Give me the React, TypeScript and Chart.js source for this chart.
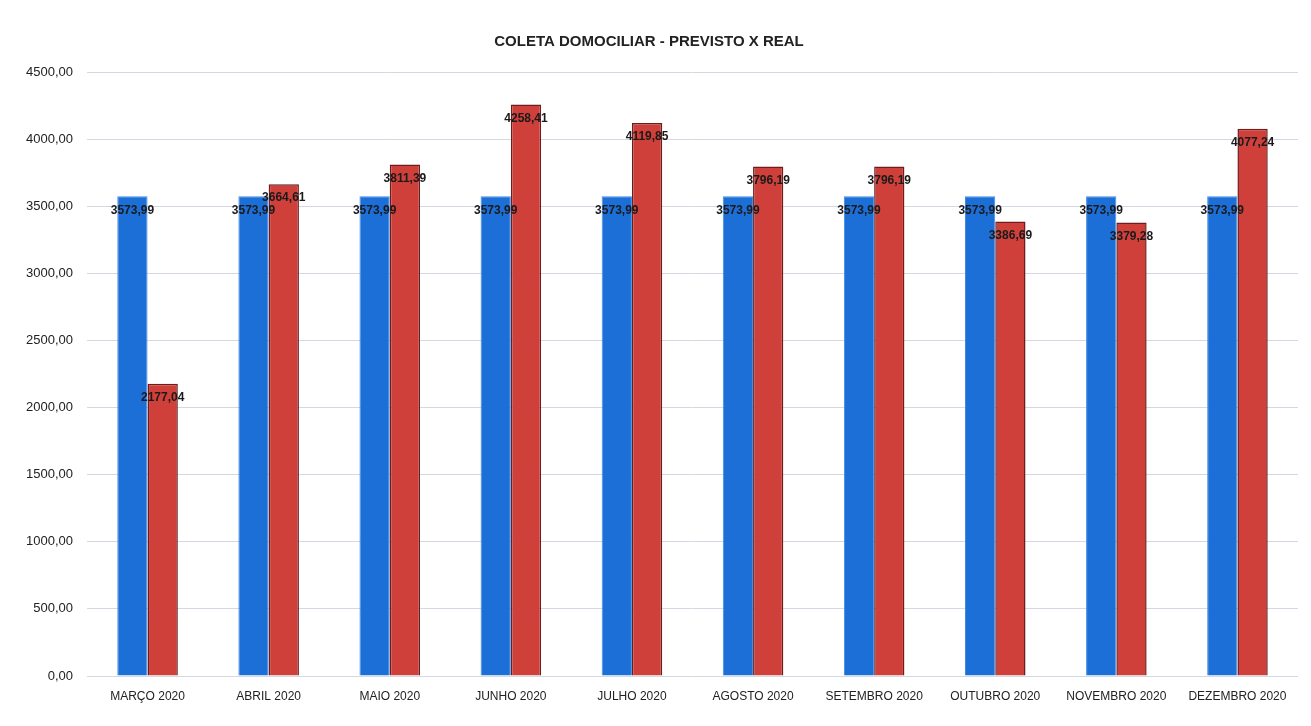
import React, { useEffect, useRef } from "react";
import { Chart, registerables } from "chart.js";

Chart.register(...registerables);

const categories = [
  "MARÇO 2020",
  "ABRIL 2020",
  "MAIO 2020",
  "JUNHO 2020",
  "JULHO 2020",
  "AGOSTO 2020",
  "SETEMBRO 2020",
  "OUTUBRO 2020",
  "NOVEMBRO 2020",
  "DEZEMBRO 2020",
];
const previsto = [3573.99, 3573.99, 3573.99, 3573.99, 3573.99, 3573.99, 3573.99, 3573.99, 3573.99, 3573.99];
const real = [2177.04, 3664.61, 3811.39, 4258.41, 4119.85, 3796.19, 3796.19, 3386.69, 3379.28, 4077.24];
const titleText = "COLETA DOMOCILIAR - PREVISTO X REAL";

const FONT = "'Liberation Sans', Arial, sans-serif";

const fmt = (v: number) => v.toFixed(2).replace(".", ",");

const labelPlugin = {
  id: "valueLabels",
  afterDatasetsDraw(chart: any) {
    const ctx = chart.ctx;
    ctx.save();
    ctx.font = `bold 12px ${FONT}`;
    ctx.fillStyle = "#1a1a1a";
    ctx.textAlign = "center";
    ctx.textBaseline = "middle";
    chart.data.datasets.forEach((ds: any, di: number) => {
      const meta = chart.getDatasetMeta(di);
      meta.data.forEach((bar: any, i: number) => {
        const v = ds.data[i];
        ctx.fillText(fmt(v), bar.x, bar.y + 14);
      });
    });
    ctx.restore();
  },
};

export default function App() {
  const ref = useRef<HTMLCanvasElement>(null);
  useEffect(() => {
    if (!ref.current) return;
    const chart = new Chart(ref.current, {
      type: "bar",
      data: {
        labels: categories,
        datasets: [
          {
            label: "PREVISTO",
            data: previsto,
            backgroundColor: "#1d6fd8",
            borderColor: "#3f8ce0",
            borderWidth: 1,
            barPercentage: 1,
            categoryPercentage: 0.5,
          },
          {
            label: "REAL",
            data: real,
            backgroundColor: "#d0403a",
            borderColor: "#6e1c1c",
            borderWidth: 1.5,
            barPercentage: 1,
            categoryPercentage: 0.5,
          },
        ],
      },
      options: {
        animation: false,
        responsive: false,
        maintainAspectRatio: false,
        layout: { padding: { left: 0, right: 13, top: 0, bottom: 0 } },
        plugins: {
          legend: { display: false },
          tooltip: { enabled: false },
          title: {
            display: true,
            text: titleText,
            color: "#222",
            font: { family: FONT, size: 15, weight: "bold" },
            padding: { top: 33, bottom: 21 },
          },
        },
        scales: {
          x: {
            grid: { display: false },
            border: { display: false },
            ticks: {
              color: "#222",
              font: { family: FONT, size: 12 },
              maxRotation: 0,
              autoSkip: false,
              padding: 5,
            },
            afterFit(scale: any) {
              scale.height = 50;
            },
          },
          y: {
            min: 0,
            max: 4500,
            ticks: {
              stepSize: 500,
              color: "#222",
              font: { family: FONT, size: 13 },
              callback: (v: any) => fmt(Number(v)),
              padding: 14,
            },
            grid: { color: "#d4d8e2", drawTicks: false },
            border: { display: false },
            afterFit(scale: any) {
              scale.width = 87;
            },
          },
        },
      },
      plugins: [labelPlugin],
    });
    return () => chart.destroy();
  }, []);
  return (
    <div style={{ position: "fixed", left: 0, top: 0, width: 1311, height: 726, background: "#fff" }}>
      <canvas ref={ref} width={1311} height={726} style={{ display: "block" }} />
    </div>
  );
}
